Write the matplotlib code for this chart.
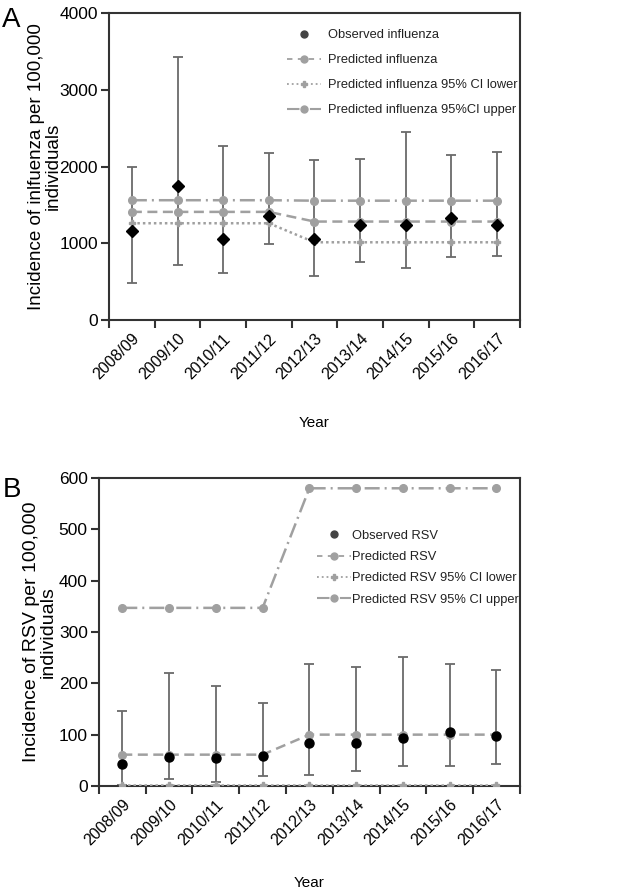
import numpy as np
import matplotlib
matplotlib.use('Agg')
import matplotlib.pyplot as plt
from matplotlib.ticker import FixedLocator, NullFormatter

plt.rcParams['font.family'] = ['Liberation Sans', 'DejaVu Sans']

# 数据
years = ['2008/09', '2009/10', '2010/11', '2011/12', '2012/13',
         '2013/14', '2014/15', '2015/16', '2016/17']

flu_obs = [1160, 1748, 1052, 1352, 1052, 1237, 1239, 1326, 1239]
flu_obs_hi = [1995, 3426, 2261, 2170, 2087, 2104, 2452, 2152, 2183]
flu_obs_lo = [483, 722, 609, 987, 574, 752, 674, 817, 830]
flu_pred = [1409, 1409, 1409, 1409, 1283, 1283, 1283, 1283, 1283]
flu_ci_lo = [1261, 1261, 1261, 1261, 1013, 1013, 1013, 1013, 1013]
flu_ci_hi = [1561, 1561, 1561, 1561, 1555, 1555, 1555, 1555, 1555]

rsv_obs = [42, 57, 55, 59, 83, 83, 93, 105, 98]
rsv_obs_hi = [147, 221, 195, 162, 237, 231, 251, 237, 226]
rsv_obs_lo = [2, 13, 8, 19, 21, 30, 38, 38, 43]
rsv_pred = [61, 61, 61, 61, 100, 100, 100, 100, 100]
rsv_ci_lo = [1, 1, 1, 1, 1, 1, 1, 1, 1]
rsv_ci_hi = [347, 347, 347, 347, 580, 580, 580, 580, 580]

gray = '#a0a0a0'
bar_c = '#6a6a6a'
axc = '#333333'


def panel(ax, obs, hi, lo, pred, cilo, cihi, obs_marker, obs_ms, names, ylim, yticks,
          ylabel, ylabel_x, ylabel_size, leg_loc, leg_space, leg_pad, xpad):
    x = np.arange(len(years)) + 0.5
    obs = np.array(obs)
    yerr = [obs - np.array(lo), np.array(hi) - obs]
    ax.errorbar(x, obs, yerr=yerr, fmt='none', ecolor=bar_c, elinewidth=1.3,
                capsize=3.6, capthick=1.3, zorder=2)
    ax.plot(x, cihi, linestyle=(0, (6, 2, 0.8, 2)), color=gray, lw=1.8,
            marker='o', ms=5.5, mfc=gray, mec=gray, zorder=3)
    ax.plot(x, pred, linestyle=(0, (4, 2.2)), color=gray, lw=1.8,
            marker='o', ms=5.5, mfc=gray, mec=gray, zorder=3)
    ax.plot(x, cilo, linestyle=(0, (1, 1.2)), color=gray, lw=1.8,
            marker='P', ms=5, mfc=gray, mec=gray, zorder=3)
    ax.plot(x, obs, linestyle='none', marker=obs_marker, ms=obs_ms, color='black', zorder=4)

    # 图例
    h0, = ax.plot([], [], linestyle='none', marker='o', ms=5, color='#444444')
    h1, = ax.plot([], [], linestyle=(0, (3, 3)), color=gray, lw=1.3, marker='o', ms=5)
    h2, = ax.plot([], [], linestyle=':', color=gray, lw=1.3, marker='P', ms=5)
    h3, = ax.plot([], [], linestyle=(0, (6, 2, 1, 2)), color=gray, lw=1.5, marker='o', ms=5)
    leg = ax.legend([h0, h1, h2, h3], names, loc='upper left', bbox_to_anchor=leg_loc,
                    frameon=False, fontsize=9.3, handlelength=2.6, handletextpad=leg_pad,
                    labelspacing=leg_space, borderaxespad=0, borderpad=0)
    for t in leg.get_texts():
        t.set_color('#222222')

    ax.set_xlim(0, len(years))
    ax.set_ylim(*ylim)
    ax.set_yticks(yticks)
    ax.xaxis.set_major_locator(FixedLocator(np.arange(len(years) + 1)))
    ax.xaxis.set_major_formatter(NullFormatter())
    ax.xaxis.set_minor_locator(FixedLocator(x))
    ax.set_xticklabels(years, minor=True, rotation=45, ha='right', rotation_mode='anchor')
    ax.tick_params(axis='x', which='minor', length=0, labelsize=11.5, pad=8)
    ax.tick_params(axis='x', which='major', length=6, width=1.5, color=axc)
    ax.tick_params(axis='y', length=6, width=1.5, color=axc, labelsize=12.5, pad=2)
    for s in ax.spines.values():
        s.set_linewidth(1.5)
        s.set_color(axc)
    ax.set_ylabel(ylabel, fontsize=ylabel_size, linespacing=0.95)
    ax.yaxis.set_label_coords(ylabel_x, 0.5)
    ax.set_xlabel('Year', fontsize=11, labelpad=xpad)


fig = plt.figure(figsize=(6.34, 8.90), dpi=100)

ax1 = fig.add_axes([0.172, 0.6404, 0.648, 0.345])
panel(ax1, flu_obs, flu_obs_hi, flu_obs_lo, flu_pred, flu_ci_lo, flu_ci_hi, 'D', 6,
      ['Observed influenza', 'Predicted influenza', 'Predicted influenza 95% CI lower',
       'Predicted influenza 95%CI upper'],
      (0, 4000), [0, 1000, 2000, 3000, 4000],
      'Incidence of inlfuenza per 100,000\nindividuals', -0.116, 13.5, (0.433, 0.947), 1.0, 0.55, 24)

ax2 = fig.add_axes([0.156, 0.1169, 0.664, 0.346])
panel(ax2, rsv_obs, rsv_obs_hi, rsv_obs_lo, rsv_pred, rsv_ci_lo, rsv_ci_hi, 'o', 6.5,
      ['Observed RSV', 'Predicted RSV', 'Predicted RSV 95% CI lower',
       'Predicted RSV 95% CI upper'],
      (0, 600), [0, 100, 200, 300, 400, 500, 600],
      'Incidence of RSV per 100,000\nindividuals', -0.1, 14, (0.518, 0.832), 0.72, 0.15, 20)

fig.text(0.003, 0.978, 'A', fontsize=20, va='center')
fig.text(0.005, 0.449, 'B', fontsize=20, va='center')

fig.savefig('out.png', dpi=100)
